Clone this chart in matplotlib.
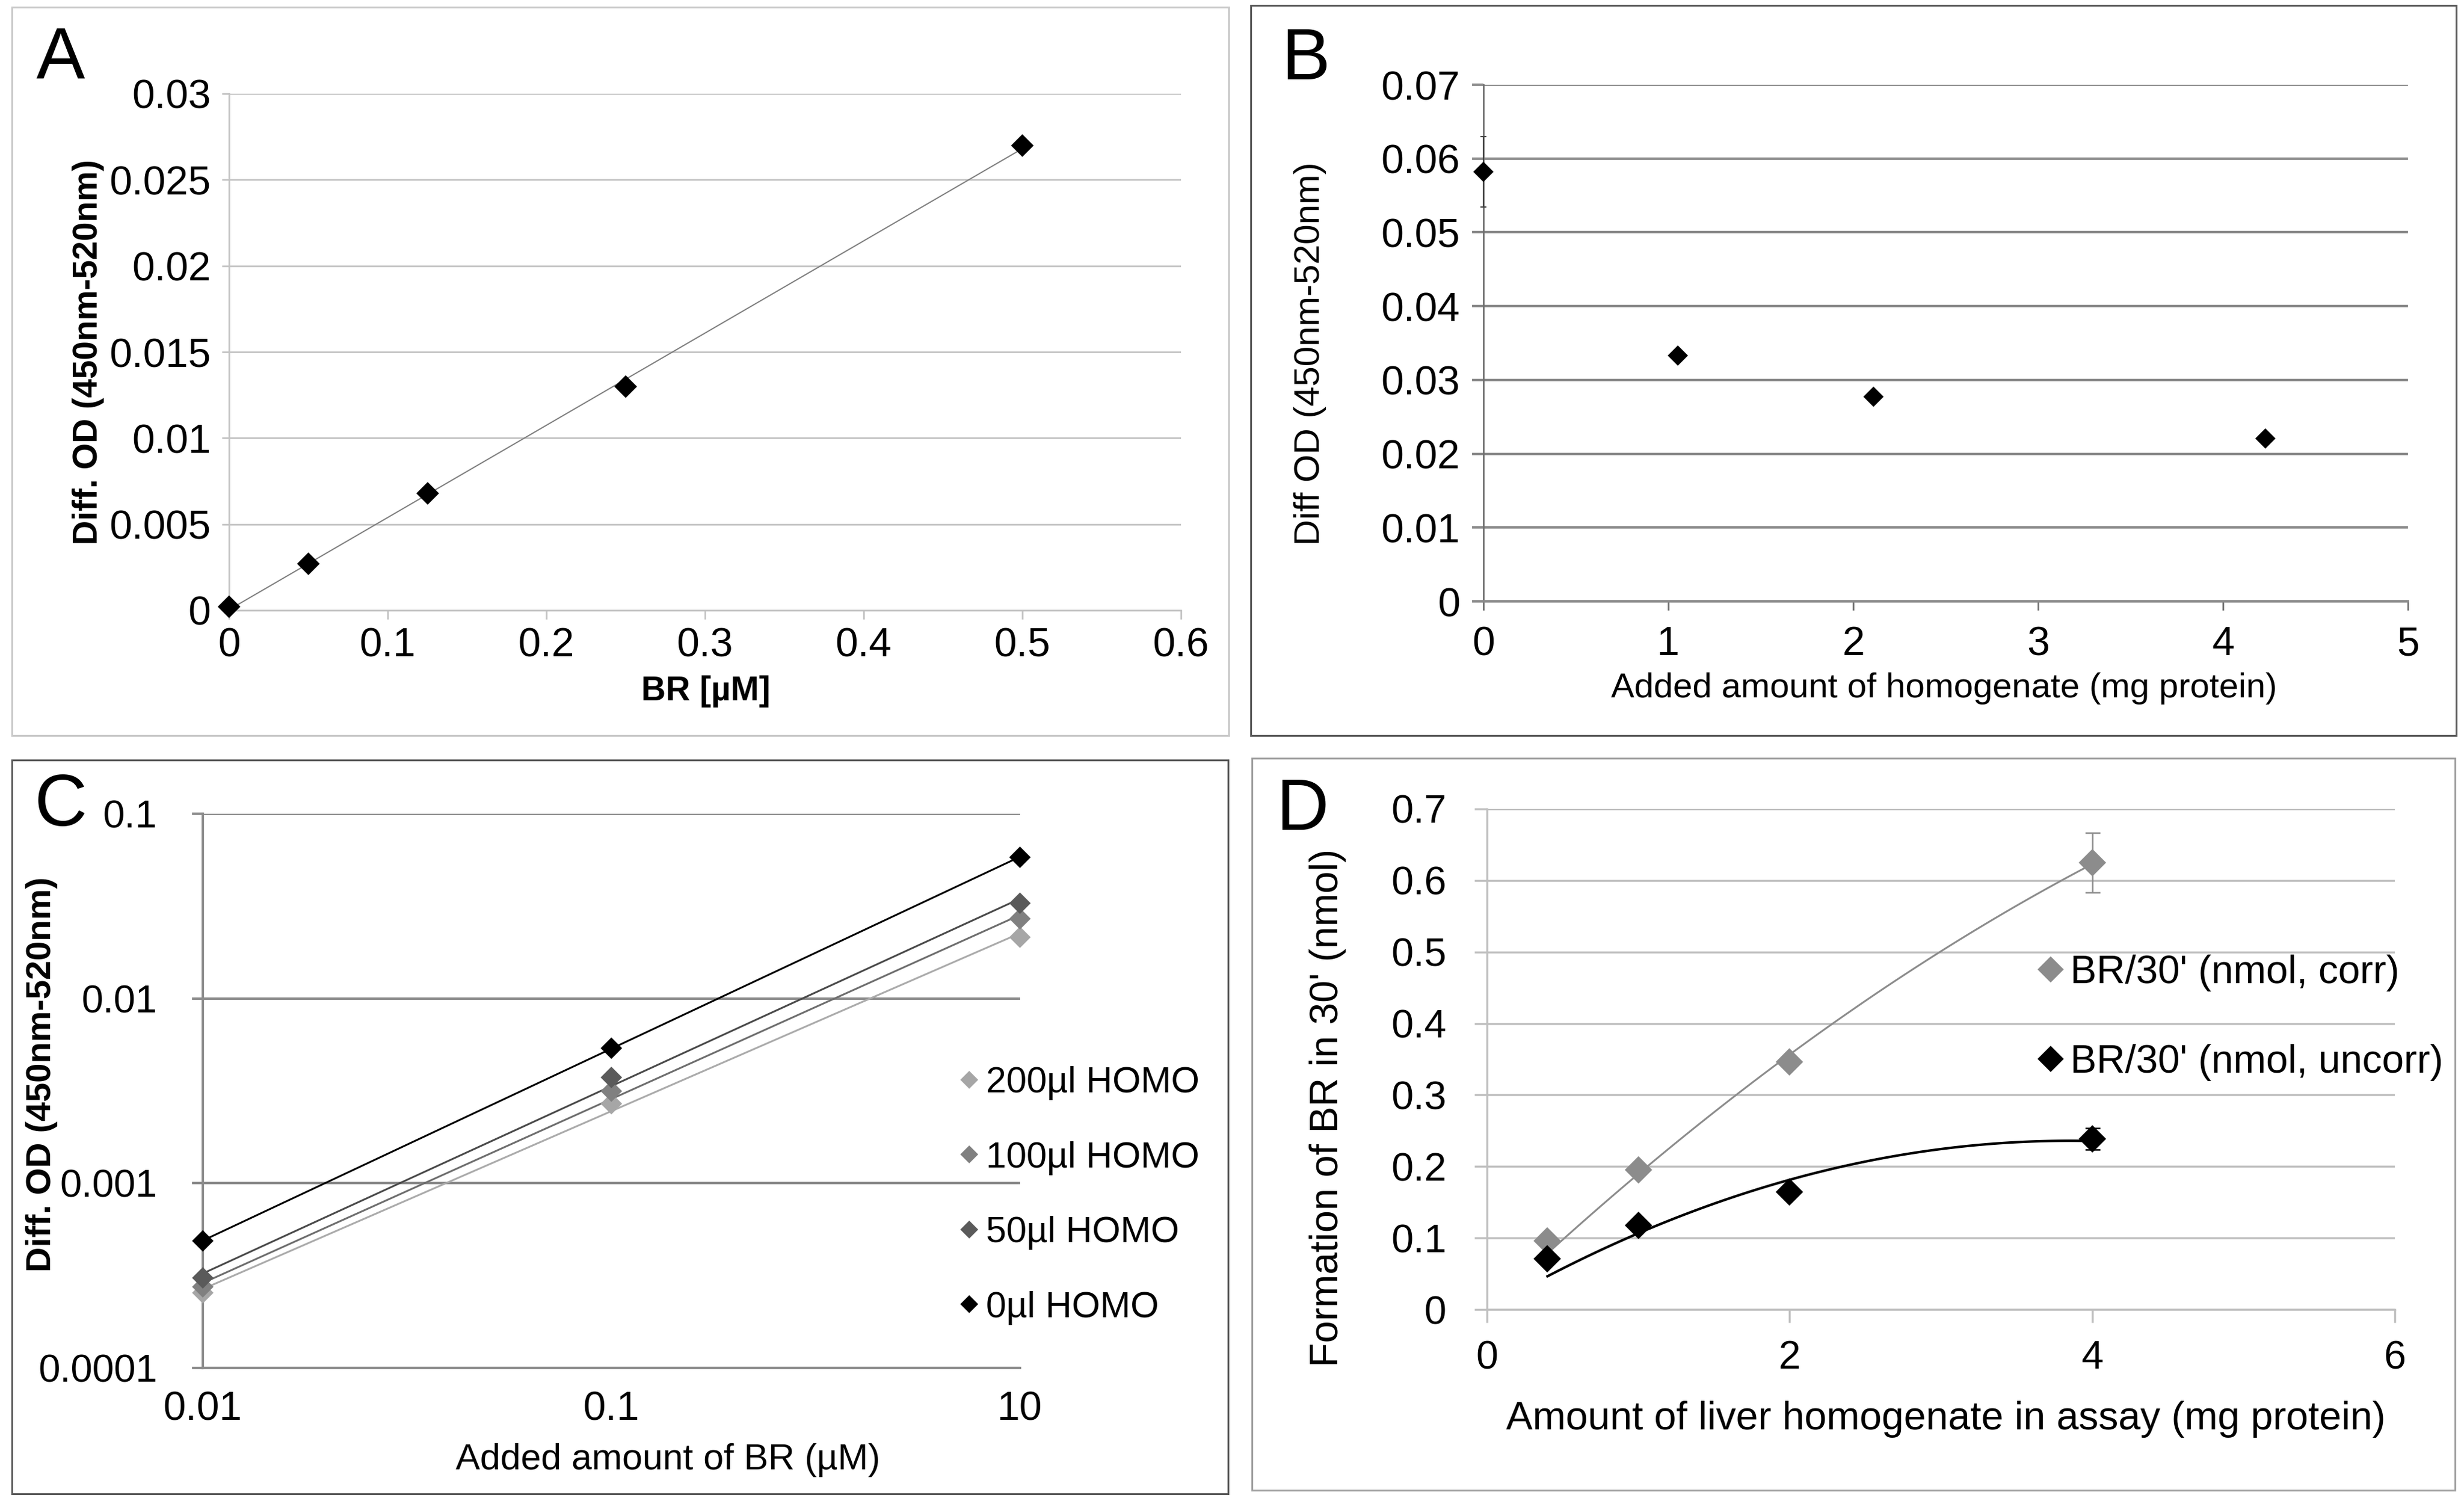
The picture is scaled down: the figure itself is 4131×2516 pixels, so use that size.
import numpy as np
import matplotlib
matplotlib.use('Agg')
import matplotlib.pyplot as plt
from matplotlib.lines import Line2D
from matplotlib.patches import Rectangle
from matplotlib.ticker import FixedLocator, FuncFormatter, NullLocator

plt.rcParams['font.family'] = ['Liberation Sans', 'DejaVu Sans']

# ---- data ----
# A: standard curve
br_a = [0, 0.05, 0.125, 0.25, 0.5]
od_a = [0.0002, 0.0027, 0.0068, 0.0130, 0.0270]

# B: homogenate interference
homog_b = [0, 1.05, 2.11, 4.23]
od_b = [0.0582, 0.0333, 0.0277, 0.0221]
err_b = [0.0048, 0, 0, 0]

# C: added BR with different homogenate volumes (category axis, log y)
br_c_labels = ['0.01', '0.1', '10']
od_c_200 = [2.55e-4, 2.70e-3, 0.0215]
od_c_100 = [2.75e-4, 3.14e-3, 0.0270]
od_c_50 = [3.07e-4, 3.75e-3, 0.0328]
od_c_0 = [4.87e-4, 5.40e-3, 0.0582]
c_names = ['200µl HOMO', '100µl HOMO', '50µl HOMO', '0µl HOMO']

# D: BR formation vs liver homogenate
liver_d = [0.4, 1.0, 2.0, 4.0]
br_corr = [0.096, 0.195, 0.346, 0.625]
err_corr = [0, 0, 0, 0.042]
br_uncorr = [0.071, 0.118, 0.164, 0.239]
err_uncorr = [0, 0, 0, 0.015]

W, H = 4131, 2516
fig = plt.figure(figsize=(W / 100, H / 100), dpi=100)


def add_axes_px(x0, y0, x1, y1):
    return fig.add_axes([x0 / W, 1 - y1 / H, (x1 - x0) / W, (y1 - y0) / H])


def box(x0, y0, x1, y1, color):
    fig.add_artist(Rectangle((x0 / W, 1 - y1 / H), (x1 - x0) / W, (y1 - y0) / H,
                             transform=fig.transFigure, fill=False,
                             edgecolor=color, lw=2.2))


def ftext(x, y, s, **kw):
    fig.text(x / W, 1 - y / H, s, ha='center', va='center', **kw)


def style(ax, gcol, glw, scol, slw):
    for s in ['top', 'right']:
        ax.spines[s].set_visible(False)
    for s in ['left', 'bottom']:
        ax.spines[s].set_color(scol)
        ax.spines[s].set_linewidth(slw)
    ax.yaxis.grid(True, color=gcol, lw=glw)
    ax.set_axisbelow(True)


fmt = FuncFormatter(lambda v, _: f'{v:g}')

# ---- boxes ----
box(20, 12, 2060, 1233, '#c8c8c8')
box(2097, 9, 4118, 1233, '#5a5a5a')
box(20, 1274, 2059, 2504, '#5a5a5a')
box(2099, 1271, 4116, 2498, '#a0a0a0')

# ---- A ----
ax = add_axes_px(384, 157, 1980, 1023)
style(ax, '#c4c4c4', 2.0, '#c4c4c4', 2.0)
coef = np.polyfit(br_a, od_a, 1)
xs = np.linspace(0, max(br_a), 50)
ax.plot(xs, np.polyval(coef, xs), color='#808080', lw=1.5)
ax.plot(br_a, od_a, 'D', color='black', ms=19, mew=0, clip_on=False, zorder=5)
ax.set_xlim(0, 0.6)
ax.set_ylim(0, 0.03)
ax.xaxis.set_major_locator(FixedLocator(np.linspace(0, 0.6, 7)))
ax.yaxis.set_major_locator(FixedLocator(np.linspace(0, 0.03, 7)))
ax.xaxis.set_major_formatter(fmt)
ax.yaxis.set_major_formatter(fmt)
ax.tick_params(axis='y', labelsize=49, length=9, width=2, color='#c4c4c4', pad=13)
ax.tick_params(axis='x', labelsize=49, length=11, width=2, color='#c4c4c4', pad=9)
ftext(148, 590, 'Diff. OD (450nm-520nm)', rotation=90, fontsize=41, fontweight='bold')
ftext(1183, 1159, 'BR [µM]', fontsize=41, fontweight='bold')
ftext(102, 100, 'A', fontsize=88)

# ---- B ----
ax = add_axes_px(2487, 142, 4037, 1008)
style(ax, '#8a8a8a', 3.0, '#8a8a8a', 3.0)
ax.spines['left'].set_color('#707070')
ax.spines['left'].set_linewidth(2.0)
ax.errorbar(homog_b, od_b, yerr=err_b, fmt='none', ecolor='#404040',
            elinewidth=1.5, capsize=3.5, capthick=1.5, clip_on=False, zorder=4)
ax.plot(homog_b, od_b, 'D', color='black', ms=17, mew=0, clip_on=False, zorder=5)
ax.set_xlim(0, 5)
ax.set_ylim(0, 0.07)
ax.xaxis.set_major_locator(FixedLocator(range(0, 6)))
ax.yaxis.set_major_locator(FixedLocator(np.linspace(0, 0.07, 8)))
ax.xaxis.set_major_formatter(fmt)
ax.yaxis.set_major_formatter(fmt)
ax.tick_params(axis='y', labelsize=49, length=14, width=3, color='#8a8a8a', pad=14)
ax.tick_params(axis='x', labelsize=49, length=11, width=2, color='#707070', pad=18)
ftext(2197, 593, 'Diff OD (450nm-520nm)', rotation=90, fontsize=43.5)
ftext(3259, 1154, 'Added amount of homogenate (mg protein)', fontsize=42)
ftext(2190, 101, 'B', fontsize=88)

# ---- C ----
ax = add_axes_px(340, 1364, 1710, 2293)
style(ax, '#8c8c8c', 3.0, '#8c8c8c', 3.0)
ax.set_yscale('log')
pos = np.arange(len(br_c_labels))
c_series = [od_c_200, od_c_100, od_c_50, od_c_0]
c_marker_cols = ['#a6a6a6', '#808080', '#5a5a5a', '#000000']
c_line_cols = ['#ababab', '#6e6e6e', '#4a4a4a', '#000000']
handles = []
for name, vals, mc, lc in zip(c_names, c_series, c_marker_cols, c_line_cols):
    k = np.polyfit(pos, np.log10(vals), 1)
    ax.plot(pos, 10 ** np.polyval(k, pos), color=lc, lw=2.2, zorder=3)
    ax.plot(pos, vals, 'D', color=mc, ms=18.5, mew=0, clip_on=False, zorder=5)
    handles.append(Line2D([], [], marker='D', ls='none', color=mc, ms=15, mew=0))
ax.set_xlim(0, 2)
ax.set_ylim(1e-4, 0.1)
ax.set_xticks(pos, br_c_labels)
ax.yaxis.set_major_locator(FixedLocator([1e-4, 1e-3, 1e-2, 1e-1]))
ax.yaxis.set_minor_locator(NullLocator())
ax.yaxis.set_major_formatter(fmt)
ax.tick_params(axis='y', labelsize=47, length=13, width=3, color='#8c8c8c', pad=42)
ax.tick_params(axis='x', labelsize=49, length=0, pad=27)
fig.legend(handles, c_names, loc='center left', bbox_to_anchor=(1610 / W, 1 - 2004 / H),
           frameon=False, fontsize=44, handlelength=0.5, handletextpad=0.2,
           labelspacing=1.12, borderpad=0, borderaxespad=0)
ftext(70, 1801, 'Diff. OD (450nm-520nm)', rotation=90, fontsize=42, fontweight='bold')
ftext(1120, 2448, 'Added amount of BR (µM)', fontsize=44)
ftext(102, 1352, 'C', fontsize=88)

# ---- D ----
ax = add_axes_px(2493, 1356, 4015, 2195)
style(ax, '#c0c0c0', 2.5, '#c0c0c0', 2.5)
xs = np.linspace(min(liver_d), max(liver_d), 100)
xd = np.array(liver_d)
for vals, errs, col, lw in [(br_corr, err_corr, '#8c8c8c', 2.2),
                            (br_uncorr, err_uncorr, '#000000', 3.0)]:
    A = np.column_stack([xd, xd ** 2])
    k = np.linalg.lstsq(A, np.array(vals), rcond=None)[0]
    ax.plot(xs, k[0] * xs + k[1] * xs ** 2, color=col, lw=lw, zorder=3)
    ax.errorbar(liver_d, vals, yerr=errs, fmt='none', ecolor=col, elinewidth=1.8,
                capsize=9, capthick=1.8, zorder=4)
    ax.plot(liver_d, vals, 'D', color=col, ms=23, mew=0, zorder=5)
ax.set_xlim(0, 6)
ax.set_ylim(0, 0.7)
ax.xaxis.set_major_locator(FixedLocator([0, 2, 4, 6]))
ax.yaxis.set_major_locator(FixedLocator(np.linspace(0, 0.7, 8)))
ax.xaxis.set_major_formatter(fmt)
ax.yaxis.set_major_formatter(fmt)
ax.tick_params(axis='y', labelsize=48, length=15, width=2.5, color='#c0c0c0', pad=34)
ax.tick_params(axis='x', labelsize=48, length=16, width=2.5, color='#c0c0c0', pad=21)
d_handles = [Line2D([], [], marker='D', ls='none', color='#8c8c8c', ms=22, mew=0),
             Line2D([], [], marker='D', ls='none', color='#000000', ms=22, mew=0)]
fig.legend(d_handles, ["BR/30' (nmol, corr)", "BR/30' (nmol, uncorr)"], loc='center left',
           bbox_to_anchor=(3415 / W, 1 - 1706 / H), frameon=False, fontsize=47.5,
           handlelength=0.7, handletextpad=0.15, labelspacing=1.33, borderpad=0,
           borderaxespad=0)
ftext(2226, 1857, "Formation of BR in 30' (nmol)", rotation=90, fontsize=48)
ftext(3262, 2379, 'Amount of liver homogenate in assay (mg protein)', fontsize=48)
ftext(2184, 1359, 'D', fontsize=88)

fig.savefig('out.png', dpi=100, facecolor='white')
